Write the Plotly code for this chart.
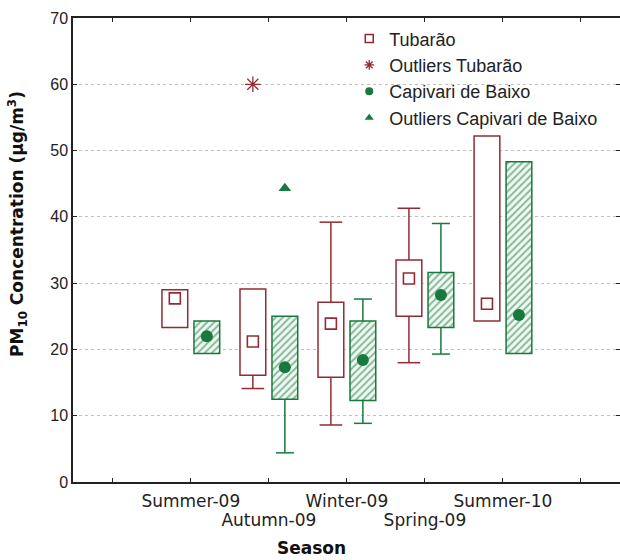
import plotly.graph_objects as go

seasons = ["Summer-09", "Autumn-09", "Winter-09", "Spring-09", "Summer-10"]
row1_labels = ["Summer-09", "Winter-09", "Summer-10"]
row2_labels = ["Autumn-09", "Spring-09"]

tub_q1 = [23.3, 16.1, 15.8, 25.0, 24.3]
tub_q3 = [29.0, 29.1, 27.1, 33.5, 52.2]
tub_med = [27.7, 21.2, 23.9, 30.7, 26.9]
tub_min = [23.3, 14.1, 8.6, 18.0, 24.3]
tub_max = [29.0, 29.1, 39.2, 41.3, 52.2]
tub_out_season = ["Autumn-09"]
tub_out_val = [60.0]

cap_q1 = [19.4, 12.5, 12.3, 23.3, 19.4]
cap_q3 = [24.3, 25.0, 24.3, 31.6, 48.3]
cap_med = [22.0, 17.3, 18.4, 28.2, 25.2]
cap_min = [19.4, 4.4, 8.85, 19.3, 19.4]
cap_max = [24.3, 25.0, 27.6, 39.0, 48.3]
cap_out_season = ["Autumn-09"]
cap_out_val = [44.3]

RED = "#922b33"
GREEN = "#17793d"
OFF = 0.205
BW = 0.33

pos = {s: i + 1 for i, s in enumerate(seasons)}


def whiskers(xs, q1, q3, lo, hi, cap):
    wx, wy = [], []
    for x, a, b, l, h in zip(xs, q1, q3, lo, hi):
        if l < a:
            wx += [x, x, None, x - cap / 2, x + cap / 2, None]
            wy += [a, l, None, l, l, None]
        if h > b:
            wx += [x, x, None, x - cap / 2, x + cap / 2, None]
            wy += [b, h, None, h, h, None]
    return wx, wy


tx = [pos[s] - OFF for s in seasons]
cx = [pos[s] + OFF for s in seasons]

fig = go.Figure()

wx, wy = whiskers(tx, tub_q1, tub_q3, tub_min, tub_max, 0.29)
fig.add_trace(go.Scatter(x=wx, y=wy, mode="lines", line=dict(color=RED, width=1.5),
                         showlegend=False, hoverinfo="skip"))
wx, wy = whiskers(cx, cap_q1, cap_q3, cap_min, cap_max, 0.23)
fig.add_trace(go.Scatter(x=wx, y=wy, mode="lines", line=dict(color=GREEN, width=1.5),
                         showlegend=False, hoverinfo="skip"))

fig.add_trace(go.Bar(x=tx, base=tub_q1, y=[b - a for a, b in zip(tub_q1, tub_q3)],
                     width=BW, marker=dict(color="white", line=dict(color=RED, width=1.5)),
                     showlegend=False))
fig.add_trace(go.Bar(x=cx, base=cap_q1, y=[b - a for a, b in zip(cap_q1, cap_q3)],
                     width=BW, marker=dict(color="white", line=dict(color=GREEN, width=1.5),
                                           pattern=dict(shape="/", fgcolor=GREEN, bgcolor="#f2f9f3",
                                                        size=5, solidity=0.4)),
                     showlegend=False))

fig.add_trace(go.Scatter(x=tx, y=tub_med, mode="markers",
                         marker=dict(symbol="square-open", size=11, color=RED, line=dict(width=1.6)),
                         showlegend=False))
fig.add_trace(go.Scatter(x=cx, y=cap_med, mode="markers",
                         marker=dict(symbol="circle", size=12, color=GREEN),
                         showlegend=False))
fig.add_trace(go.Scatter(x=[pos[s] - OFF for s in tub_out_season], y=tub_out_val, mode="markers",
                         marker=dict(symbol="asterisk-open", size=13, color=RED, line=dict(width=1.3, color=RED)),
                         showlegend=False))
fig.add_trace(go.Scatter(x=[pos[s] + OFF for s in cap_out_season], y=cap_out_val, mode="markers",
                         marker=dict(symbol="triangle-up", size=11, color=GREEN),
                         showlegend=False))

# legend entries
fig.add_trace(go.Scatter(x=[None], y=[None], mode="markers", name="Tubarão",
                         marker=dict(symbol="square-open", size=8, color=RED, line=dict(width=1.5))))
fig.add_trace(go.Scatter(x=[None], y=[None], mode="markers", name="Outliers Tubarão",
                         marker=dict(symbol="asterisk-open", size=8, color=RED, line=dict(width=1.3, color=RED))))
fig.add_trace(go.Scatter(x=[None], y=[None], mode="markers", name="Capivari de Baixo",
                         marker=dict(symbol="circle", size=8, color=GREEN)))
fig.add_trace(go.Scatter(x=[None], y=[None], mode="markers", name="Outliers Capivari de Baixo",
                         marker=dict(symbol="triangle-up", size=8, color=GREEN)))

# invisible trace to host the second row of season labels
fig.add_trace(go.Scatter(x=[pos[s] for s in row2_labels], y=[None, None], xaxis="x2", mode="markers",
                         showlegend=False, hoverinfo="skip"))

fig.update_layout(
    width=620, height=560,
    margin=dict(l=73, r=0, t=18, b=78),
    paper_bgcolor="white", plot_bgcolor="white",
    barmode="overlay",
    font=dict(family="Liberation Sans, Arial", color="#222"),
    legend=dict(x=0.505, y=0.995, xanchor="left", yanchor="top",
                bgcolor="rgba(0,0,0,0)", font=dict(size=18, family="Liberation Sans, Arial", color="#222"),
                tracegroupgap=0, itemwidth=30),
    annotations=[
        dict(text="<b>PM<sub>10</sub> Concentration (µg/m<sup>3</sup>)</b>", textangle=-90,
             xref="paper", yref="paper", x=(17 - 73) / 547, y=(482 - 224) / 464,
             showarrow=False, font=dict(family="DejaVu Sans", size=17, color="#111"),
             xanchor="center", yanchor="middle"),
        dict(text="<b>Season</b>", xref="paper", yref="paper", x=(311 - 73) / 547, y=(482 - 548) / 464,
             showarrow=False, font=dict(family="DejaVu Sans", size=17, color="#111"),
             xanchor="center", yanchor="middle"),
    ],
    xaxis2=dict(overlaying="x", side="bottom", anchor="y", range=[-0.51, 6.5], tickmode="array",
                tickvals=[pos[s] for s in row2_labels], ticktext=row2_labels, tickangle=0,
                automargin=False, showline=False, showgrid=False, zeroline=False, ticks="",
                ticklabelstandoff=26, tickfont=dict(family="DejaVu Sans", size=17, color="#222")),
)

fig.layout.xaxis.update(range=[-0.51, 6.5], tickmode="array", tickvals=[pos[s] for s in row1_labels],
                        ticktext=row1_labels, tickangle=0, automargin=False,
                        ticks="inside", ticklen=4, tickcolor="#222", showline=True, linecolor="#222",
                        linewidth=1.5, mirror="ticks", showgrid=False, zeroline=False,
                        ticklabelstandoff=3,
                        minor=dict(tickmode="array", tickvals=list(range(7)), ticks="inside", ticklen=4,
                                   tickcolor="#222", showgrid=False),
                        tickfont=dict(family="DejaVu Sans", size=17, color="#222"))
fig.update_yaxes(range=[0, 70], tickvals=list(range(0, 71, 10)), ticks="inside", ticklen=4, tickcolor="#222",
                 automargin=False,
                 showline=True, linecolor="#222", linewidth=1.5, mirror="ticks",
                 showgrid=True, gridcolor="#c0c0c0", griddash="dot", gridwidth=1, zeroline=False,
                 tickfont=dict(family="Liberation Sans, Arial", size=16, color="#222"))

fig.write_html("out.html")
